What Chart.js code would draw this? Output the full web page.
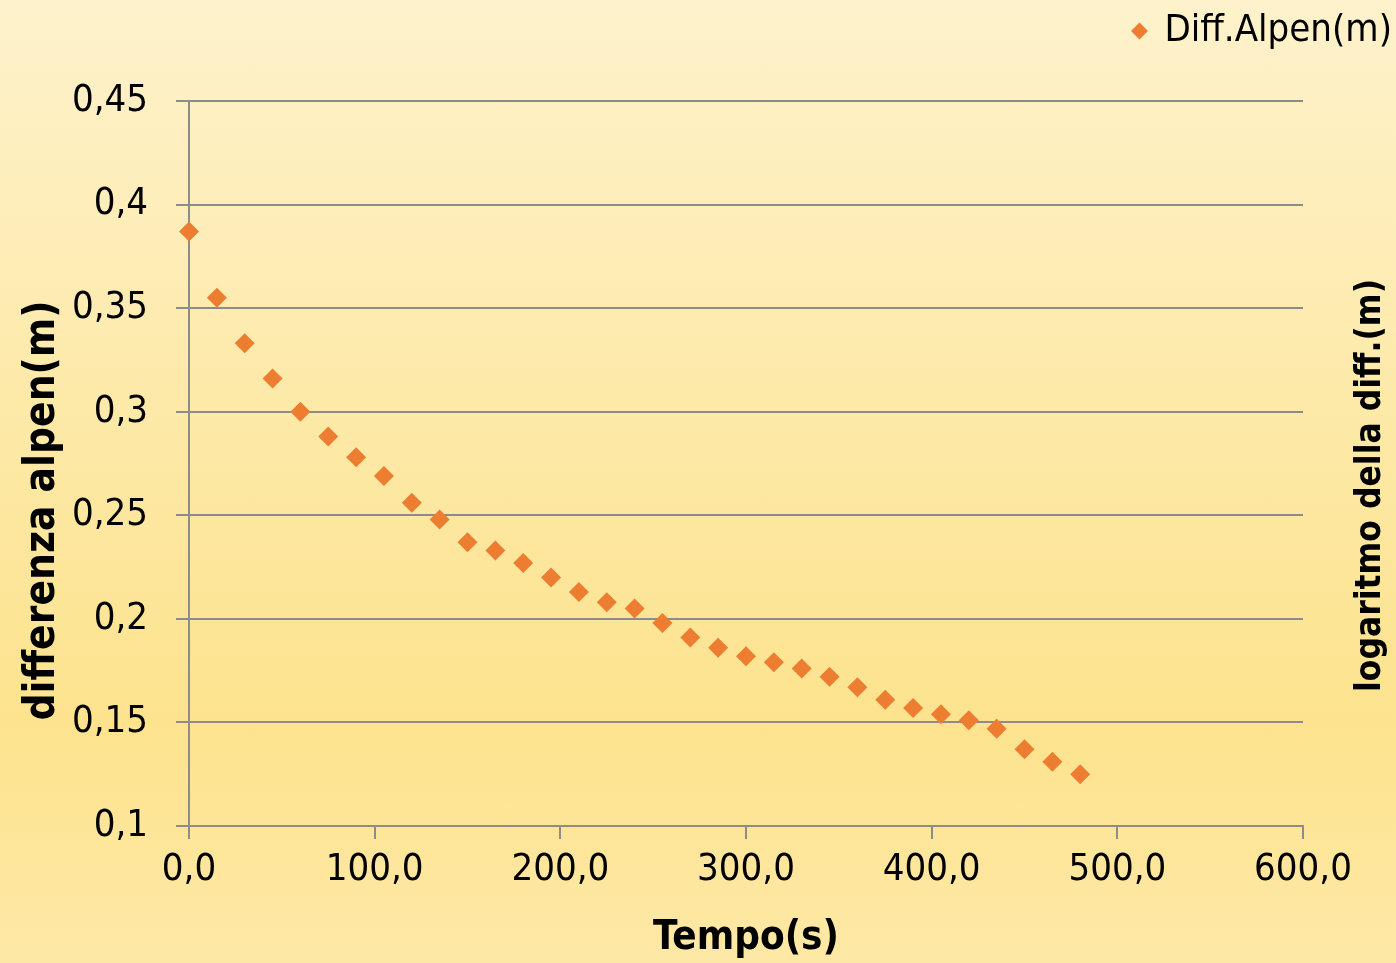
<!DOCTYPE html>
<html lang="it">
<head>
<meta charset="UTF-8">
<title>Diff.Alpen</title>
<script src="https://cdn.jsdelivr.net/npm/chart.js@4.4.1/dist/chart.umd.min.js"></script>
<style>
    html, body { margin:0; padding:0; }
    body {
        width:1396px; height:963px; overflow:hidden;
        background: linear-gradient(to bottom, #fef2cc 0%, #fde9a6 45%, #fde38e 75%, #fee8a6 100%);
    }
    #board { width:1396px; height:963px; }
</style>
</head>
<body>
<div id="board"><canvas id="chart1" width="1396" height="963"></canvas></div>
<script>
    // tempo (s) e differenza alpen (m)
    const tempo = [0,15,30,45,60,75,90,105,120,135,150,165,180,195,210,225,240,255,270,285,300,315,330,345,360,375,390,405,420,435,450,465,480];
    const diff  = [0.387,0.355,0.333,0.316,0.300,0.288,0.278,0.269,0.256,0.248,0.237,0.233,0.227,0.220,0.213,0.208,0.205,0.198,0.191,0.186,0.182,0.179,0.176,0.172,0.167,0.161,0.157,0.154,0.151,0.147,0.137,0.131,0.125];
    const xTicks = [0,100,200,300,400,500,600];
    const yTicks = [0.1,0.15,0.2,0.25,0.3,0.35,0.4,0.45];
    const yTitle = 'differenza alpen(m)';
    const y2Title = 'logaritmo della diff.(m)';

    const FONT = '"DejaVu Sans Condensed", "DejaVu Sans", sans-serif';
    const gridCol = '#8c8c8c';
    const comma = (s) => s.replace('.', ',');

    // legenda alta 101px, testo spostato un po' a destra
    const legendFit = {
        id: 'legendFit',
        beforeLayout(chart) {
            const lg = chart.legend;
            if (!lg || lg._patched) return;
            const orig = lg.fit;
            lg.fit = function () {
                orig.call(this);
                this.height = 101;
                if (this.lineWidths && this.lineWidths.length) this.lineWidths[0] -= 8;
            };
            lg._patched = true;
        }
    };

    // titoli verticali (sinistra e destra, entrambi dal basso verso l'alto)
    const sideTitles = {
        id: 'sideTitles',
        afterDraw(chart) {
            const c = chart.ctx;
            const a = chart.chartArea;
            c.save();
            c.fillStyle = '#000';
            c.font = 'bold 42px ' + FONT;
            c.textAlign = 'center';
            c.textBaseline = 'middle';
            c.translate(43, (a.top + a.bottom) / 2 + 47);
            c.rotate(-Math.PI / 2);
            c.fillText(yTitle, 0, 0);
            c.restore();

            c.save();
            c.fillStyle = '#000';
            c.font = 'bold 35px ' + FONT;
            c.textAlign = 'center';
            c.textBaseline = 'middle';
            c.translate(1371, (a.top + a.bottom) / 2 + 22);
            c.rotate(-Math.PI / 2);
            c.fillText(y2Title, 0, 0);
            c.restore();
        }
    };

    const ctx = document.getElementById('chart1').getContext('2d');
    new Chart(ctx, {
        type: 'scatter',
        data: {
            datasets: [{
                label: 'Diff.Alpen(m)',
                data: tempo.map((t, i) => ({x: t, y: diff[i]})),
                backgroundColor: '#ed7d31',
                borderColor: '#ed7d31',
                pointStyle: 'rectRot',
                pointRadius: 10,
                pointHoverRadius: 10,
                borderWidth: 0,
                clip: false
            }]
        },
        options: {
            responsive: false,
            animation: false,
            layout: { padding: 0 },
            plugins: {
                tooltip: { enabled: false },
                legend: {
                    position: 'top',
                    align: 'end',
                    labels: {
                        usePointStyle: true,
                        pointStyle: 'rectRot',
                        boxWidth: 12,
                        boxHeight: 12,
                        color: '#000',
                        padding: 12,
                        font: { family: FONT, size: 38 }
                    }
                }
            },
            scales: {
                x: {
                    type: 'linear',
                    min: 0, max: 600,
                    afterBuildTicks: (s) => { s.ticks = xTicks.map(v => ({value: v})); },
                    afterFit: (s) => { s.height = 137; },
                    grid: { display: true, drawOnChartArea: false, color: gridCol, lineWidth: 2, tickLength: 13 },
                    border: { color: gridCol, width: 2 },
                    ticks: {
                        color: '#000',
                        padding: 8,
                        maxRotation: 0,
                        font: { family: FONT, size: 38 },
                        callback: (v) => comma(v.toFixed(1))
                    },
                    title: {
                        display: true,
                        text: 'Tempo(s)',
                        color: '#000',
                        padding: { top: 10, bottom: 0 },
                        font: { family: FONT, size: 40, weight: 'bold' }
                    }
                },
                y: {
                    type: 'linear',
                    position: 'left',
                    min: 0.1, max: 0.45,
                    afterBuildTicks: (s) => { s.ticks = yTicks.map(v => ({value: v})); },
                    afterFit: (s) => { s.width = 189; },
                    grid: { color: gridCol, lineWidth: 2, tickLength: 13 },
                    border: { color: gridCol, width: 2 },
                    ticks: {
                        color: '#000',
                        padding: 28,
                        font: { family: FONT, size: 38 },
                        callback: (v) => comma(String(Math.round(v * 100) / 100))
                    },
                    title: { display: false }
                },
                y2: {
                    type: 'linear',
                    position: 'right',
                    min: 0.1, max: 0.45,
                    afterFit: (s) => { s.width = 93; },
                    grid: { display: false },
                    border: { display: false },
                    ticks: { display: false },
                    title: { display: false }
                }
            }
        },
        plugins: [legendFit, sideTitles]
    });
</script>
</body>
</html>
